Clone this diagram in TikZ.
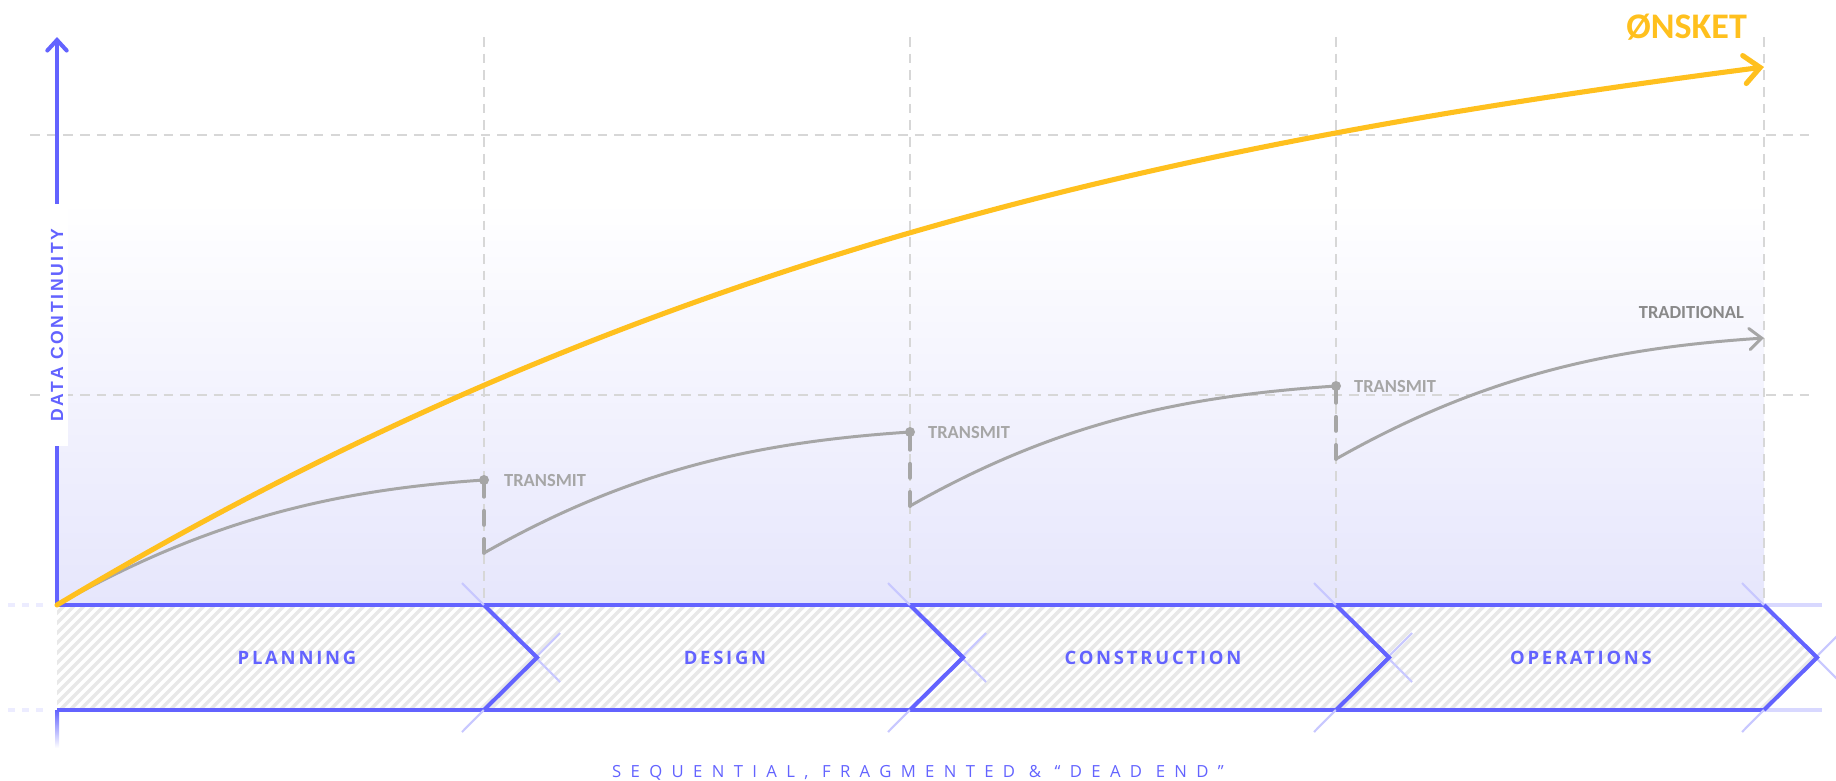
\documentclass[tikz,border=0pt]{standalone}
\usepackage{fontspec}
\setmainfont{Open Sans}
\newfontfamily\calib{Carlito}
\newfontfamily\stagefont[LetterSpace=15]{Open Sans}
\newfontfamily\axisfont[LetterSpace=15]{Liberation Sans}
\newfontfamily\widefont[LetterSpace=56]{Open Sans}
\usetikzlibrary{arrows.meta}

\definecolor{bandblue}{RGB}{99,99,255}
\definecolor{wishgold}{RGB}{255,192,30}
\definecolor{tradgray}{RGB}{166,166,166}
\definecolor{darkgray}{RGB}{137,137,137}
\definecolor{gridgray}{RGB}{215,215,215}
\definecolor{shadeblue}{RGB}{230,230,252}
\definecolor{hatchgray}{RGB}{232,232,232}

\begin{document}
\begin{tikzpicture}[x=0.2mm, y=-0.2mm,
	grid/.style={gridgray, line width=1.1pt, dash pattern=on 5.5pt off 4pt},
	band/.style={bandblue, line width=2.3pt},
	faint/.style={bandblue!35, line width=1.2pt},
	wish/.style={wishgold, line width=2.9pt, line cap=round, -{Straight Barb[length=9pt,width=16pt,line cap=round]}},
	trad/.style={tradgray, line width=1.7pt},
	jump/.style={tradgray, line width=2.2pt, line cap=round, dash pattern=on 8pt off 8pt},
	stage/.style={bandblue, font=\stagefont\bfseries\fontsize{10.5pt}{12pt}\selectfont},
	tag/.style={tradgray, font=\calib\bfseries\fontsize{10.5pt}{12pt}\selectfont, anchor=base west}]

	\useasboundingbox (0,0) rectangle (1836,780);

	% Background shading and grid
	\shade[top color=white, bottom color=shadeblue] (57,200) rectangle (1764,605);
	\draw[grid] (30,135) -- (1815,135);
	\draw[grid] (30,395) -- (1815,395);
	\foreach \b in {484,910,1336,1764}
		\draw[grid] (\b,37) -- (\b,605);

	% Phase band {planning, design, construction, operations}
	\begin{scope}
		\clip (57,605) -- (1764,605) -- (1817,657.5) -- (1764,710) -- (57,710) -- cycle;
		\fill[white] (57,605) rectangle (1820,710);
		\foreach \i in {-110,-100,...,1830}
			\draw[hatchgray, line width=2pt] (\i,710) -- ++(105,-105);
	\end{scope}
	\draw[bandblue!12, line width=2.3pt, dash pattern=on 4pt off 4pt] (8,605) -- (50,605);
	\draw[bandblue!12, line width=2.3pt, dash pattern=on 4pt off 4pt] (8,710) -- (50,710);
	\draw[bandblue!25, line width=2.3pt] (1764,605) -- (1822,605);
	\draw[bandblue!25, line width=2.3pt] (1764,710) -- (1822,710);
	\draw[band] (57,605) -- (1764,605);
	\draw[band] (57,710) -- (1764,710);
	\foreach \b in {484,910,1336,1764} {
		\draw[faint] (\b-22,583) -- (\b+76,682);
		\draw[faint] (\b-22,732) -- (\b+76,633);
		\draw[band, line join=miter] (\b,605) -- (\b+53,657.5) -- (\b,710);
	}
	\node[stage] (plan)   at (297,658)  {PLANNING};
	\node[stage] (design) at (725,658)  {DESIGN};
	\node[stage] (constr) at (1153,658) {CONSTRUCTION};
	\node[stage] (oper)   at (1581,658) {OPERATIONS};

	% Axis
	\draw[band, -{Straight Barb[length=6pt,width=11pt,line cap=round]}] (57,605) -- (57,37);
	\shade[top color=bandblue, bottom color=white] (55,710) rectangle (59,748);
	\node[fill=white, rotate=90, inner xsep=14pt, inner ysep=3pt, text=bandblue,
		font=\axisfont\bfseries\fontsize{10pt}{12pt}\selectfont] (yaxis) at (57,325) {DATA CONTINUITY};

	% Points {origin, transmit 1-3, ends}
	\coordinate (o)  at (57,605);
	\coordinate (t1) at (484,480);
	\coordinate (s1) at (484,553);
	\coordinate (t2) at (910,432);
	\coordinate (s2) at (910,506);
	\coordinate (t3) at (1336,386);
	\coordinate (s3) at (1336,459);
	\coordinate (tend) at (1764,338);
	\coordinate (wend) at (1764,67);

	% Traditional path
	\draw[trad] (o)  .. controls +(150,-85) and +(-150,10) .. (t1);
	\draw[trad] (s1) .. controls +(150,-85) and +(-150,10) .. (t2);
	\draw[trad] (s2) .. controls +(150,-85) and +(-150,10) .. (t3);
	\draw[trad, line cap=round, -{Straight Barb[length=7pt,width=12pt,line cap=round]}]
		(s3) .. controls +(150,-85) and +(-150,10) .. (tend);
	\foreach \s/\t in {s1/t1,s2/t2,s3/t3} {
		\draw[jump] (\s) -- (\t);
		\fill[tradgray] (\t) circle[radius=1mm];
	}
	\node[tag] (tr1) at ([xshift=2.8mm,yshift=-1.2mm]t1) {TRANSMIT};
	\node[tag] (tr2) at ([xshift=2.4mm,yshift=-1.2mm]t2) {TRANSMIT};
	\node[tag] (tr3) at ([xshift=2.4mm,yshift=-1.2mm]t3) {TRANSMIT};
	\node[tag, text=darkgray, anchor=base east] (trad) at (1750,318) {TRADITIONAL};

	% Wanted path
	\draw[wish] (o) .. controls (642,254) and (1178,143) .. (wend);
	\node[wishgold, anchor=base east, font=\calib\bfseries\fontsize{20.5pt}{24pt}\selectfont] (wish) at (1753,38) {ØNSKET};

	\node[bandblue, font=\widefont\fontsize{9.5pt}{12pt}\selectfont] (caption) at (918,773)
		{SEQUENTIAL, FRAGMENTED \& “DEAD END”};
\end{tikzpicture}
\end{document}
